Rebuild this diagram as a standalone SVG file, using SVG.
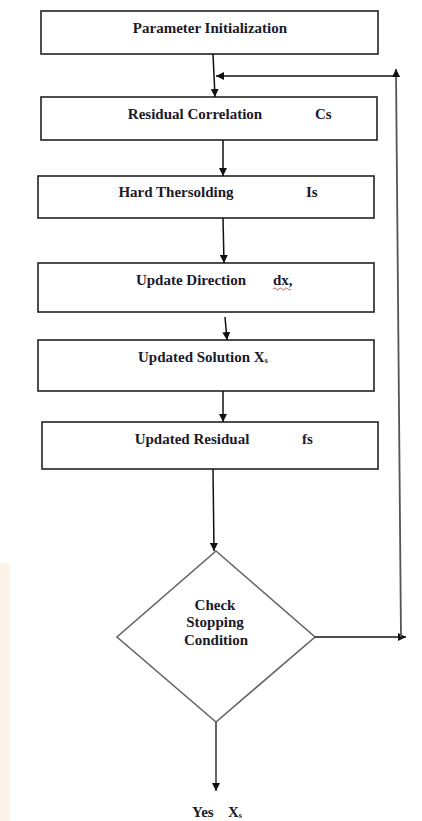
<svg xmlns="http://www.w3.org/2000/svg" width="422" height="821" viewBox="0 0 422 821">
<defs>
<marker id="ah" viewBox="0 0 10 10" refX="10" refY="5" markerWidth="8" markerHeight="8" markerUnits="userSpaceOnUse" orient="auto">
<path d="M0,0 L10,5 L0,10 z" fill="#111"/>
</marker>
<style>
.box{fill:#fff;stroke:#222;stroke-width:1.6}
.dia{fill:#fff;stroke:#666;stroke-width:1.6}
.t{font-family:"Liberation Serif","Times New Roman",serif;font-size:15px;font-weight:bold;fill:#1a1a2a}
.c{text-anchor:middle}
.ln{fill:none;stroke:#111;stroke-width:1.5;marker-end:url(#ah)}
.gl{fill:none;stroke:#555;stroke-width:1.8;marker-end:url(#ah)}
</style>
</defs>
<rect width="422" height="821" fill="#fff"/>
<rect x="0" y="563" width="10" height="258" fill="#fdebd8" opacity="0.6"/>

<g id="n1"><rect class="box" x="41" y="11" width="337" height="43"/><text class="t c" x="210" y="33">Parameter Initialization</text></g>
<g id="n2"><rect class="box" x="41" y="97" width="336" height="43"/><text class="t c" x="195" y="119">Residual Correlation</text><text class="t" x="315" y="119">Cs</text></g>
<g id="n3"><rect class="box" x="38" y="176" width="336" height="42"/><text class="t c" x="176" y="197">Hard Thersolding</text><text class="t" x="306" y="197">Is</text></g>
<g id="n4"><rect class="box" x="38" y="263" width="336" height="49"/><text class="t c" x="191" y="285">Update Direction</text><text class="t" x="273" y="285">dx,</text><path d="M273,289 q1.5,-2 3,0 t3,0 t3,0 t3,0 t3,0 t3,0" fill="none" stroke="#d22" stroke-width="0.8"/></g>
<g id="n5"><rect class="box" x="38" y="340" width="336" height="51"/><text class="t" x="138" y="362">Updated Solution X<tspan font-size="8" dy="1">s</tspan></text></g>
<g id="n6"><rect class="box" x="42" y="422" width="336" height="47"/><text class="t c" x="192" y="444">Updated Residual</text><text class="t" x="302" y="444">fs</text></g>
<g id="n7"><polygon class="dia" points="216,551 315,637 216,722 117,637"/><text class="t c" x="215" y="610">Check</text><text class="t c" x="215" y="627">Stopping</text><text class="t c" x="216" y="645">Condition</text></g>
<g id="n8"><text class="t" x="192" y="817">Yes<tspan x="228">X</tspan><tspan font-size="8" dy="1">s</tspan></text></g>

<g id="connectors">
<line class="ln" x1="213" y1="54" x2="215" y2="97"/>
<line class="ln" x1="396" y1="76" x2="216" y2="76"/>
<line class="ln" x1="223" y1="140" x2="223" y2="176"/>
<line class="ln" x1="223" y1="218" x2="224" y2="263"/>
<line class="ln" x1="225" y1="317" x2="227" y2="340"/>
<line class="ln" x1="223" y1="391" x2="223" y2="422"/>
<line class="ln" x1="213" y1="469" x2="214" y2="551"/>
<line class="ln" x1="315" y1="637" x2="406" y2="637"/>
<line class="gl" x1="401" y1="637" x2="396" y2="69"/>
<line class="gl" x1="216" y1="722" x2="216" y2="791"/>
</g>
</svg>
